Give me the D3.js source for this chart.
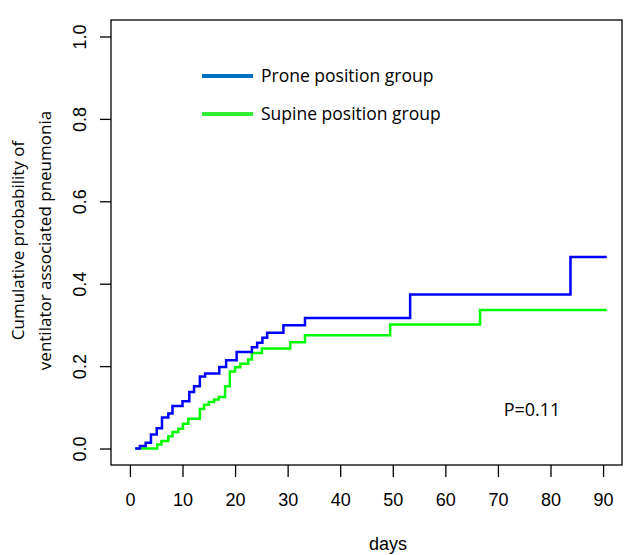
<!DOCTYPE html>
<html>
<head>
<meta charset="utf-8">
<script src="https://cdn.jsdelivr.net/npm/d3@7"></script>
<style>
  body { margin: 0; background: #fff; }
  svg text { font-family: "Liberation Sans", Arial, sans-serif; }
  svg text.calibri { font-family: "Open Sans", "Noto Sans", sans-serif; }
</style>
</head>
<body>
<div class="chart"></div>
<script>
// days and cumulative probability
const proneDays = [1, 1.9, 3.0, 4.0, 5.1, 6.1, 7.3, 8.1, 10.0, 11.3, 12.2, 13.3, 14.3, 17.0, 18.3, 20.3, 23.2, 24.2, 25.2, 26.1, 29.2, 33.3, 53.3, 83.8, 90.7];
const proneProb = [0, 0.006, 0.014, 0.034, 0.049, 0.075, 0.085, 0.103, 0.115, 0.137, 0.151, 0.175, 0.182, 0.198, 0.214, 0.234, 0.246, 0.257, 0.269, 0.281, 0.299, 0.317, 0.374, 0.465, 0.465];
const supineDays = [1, 5.2, 6.0, 7.3, 8.1, 9.2, 10.1, 11.1, 13.3, 14.1, 15.0, 16.0, 16.9, 18.1, 19.0, 20.0, 21.0, 22.5, 23.2, 25.1, 30.5, 33.3, 49.5, 66.6, 90.7];
const supineProb = [0, 0.01, 0.018, 0.03, 0.04, 0.048, 0.06, 0.072, 0.096, 0.106, 0.113, 0.119, 0.125, 0.151, 0.187, 0.197, 0.206, 0.216, 0.232, 0.243, 0.258, 0.275, 0.301, 0.336, 0.336];
const xTicks = [0, 10, 20, 30, 40, 50, 60, 70, 80, 90];
const yTicks = [0, 0.2, 0.4, 0.6, 0.8, 1.0];
const legendLabels = ['Prone position group', 'Supine position group'];

const w = 627;
const h = 555;
const box = { left: 111, right: 622, top: 20, bottom: 465 };

const xScale = d3.scaleLinear()
  .domain([-3.6, 93.6])
  .range([box.left, box.right]);
const yScale = d3.scaleLinear()
  .domain([-0.04, 1.04])
  .range([box.bottom, box.top]);

const svg = d3.select('.chart')
  .append('svg')
  .attr('width', w)
  .attr('height', h);

svg.append('rect')
  .attr('x', box.left)
  .attr('y', box.top)
  .attr('width', box.right - box.left)
  .attr('height', box.bottom - box.top)
  .attr('fill', 'none')
  .attr('stroke', '#000')
  .attr('stroke-width', 1.3);

// x axis: ticks only, hanging under the box
const xAxis = svg.append('g')
  .attr('transform', `translate(0, ${box.bottom})`)
  .call(d3.axisBottom(xScale).tickValues(xTicks).tickSize(12).tickPadding(16).tickFormat(d3.format('d')));
xAxis.select('.domain').remove();
xAxis.selectAll('line').attr('stroke-width', 1.3);
xAxis.selectAll('text').attr('font-size', 18).attr('fill', '#000')
  .style('font-family', '"Liberation Sans", Arial, sans-serif');

const yAxis = svg.append('g')
  .attr('transform', `translate(${box.left}, 0)`)
  .call(d3.axisLeft(yScale).tickValues(yTicks).tickSize(11).tickFormat(d3.format('.1f')));
yAxis.select('.domain').remove();
yAxis.selectAll('line').attr('stroke-width', 1.3);
yAxis.selectAll('text').remove();
yAxis.selectAll('.tick')
  .append('text')
  .attr('transform', 'translate(-31, 0) rotate(-90)')
  .attr('text-anchor', 'middle')
  .attr('dy', '0.35em')
  .attr('font-size', 18)
  .attr('fill', '#000')
  .text((d) => d3.format('.1f')(d));

const line = d3.line()
  .x((d) => xScale(d[0]))
  .y((d) => yScale(d[1]))
  .curve(d3.curveStepAfter);

svg.append('path')
  .datum(d3.zip(supineDays, supineProb))
  .attr('d', line)
  .attr('fill', 'none')
  .attr('stroke', '#00ff00')
  .attr('stroke-width', 2.5);

svg.append('path')
  .datum(d3.zip(proneDays, proneProb))
  .attr('d', line)
  .attr('fill', 'none')
  .attr('stroke', '#0000ff')
  .attr('stroke-width', 2.5);

// legend
const legendColors = ['#0070c0', '#33ee33'];
legendLabels.forEach((label, i) => {
  const y = 76 + i * 38;
  svg.append('line')
    .attr('x1', 202).attr('x2', 253)
    .attr('y1', y).attr('y2', y)
    .attr('stroke', legendColors[i])
    .attr('stroke-width', 4);
  svg.append('text')
    .attr('class', 'calibri')
    .attr('x', 261)
    .attr('y', y)
    .attr('dy', '0.35em')
    .attr('font-size', 17.5)
    .text(label);
});

svg.append('text')
  .attr('class', 'calibri')
  .attr('x', 532)
  .attr('y', 410)
  .attr('dy', '0.35em')
  .attr('text-anchor', 'middle')
  .attr('font-size', 18)
  .text('P=0.11');

svg.append('text')
  .attr('x', 388)
  .attr('y', 550)
  .attr('text-anchor', 'middle')
  .attr('font-size', 18)
  .text('days');

const yLabel = svg.append('text')
  .attr('class', 'calibri')
  .attr('transform', `translate(0, ${(box.top + box.bottom) / 2 - 2}) rotate(-90)`)
  .attr('text-anchor', 'middle')
  .attr('font-size', 17);
yLabel.append('tspan').attr('x', 0).attr('y', 24).text('Cumulative probability of');
yLabel.append('tspan').attr('x', 0).attr('y', 51).text('ventilator associated pneumonia');
</script>
</body>
</html>
